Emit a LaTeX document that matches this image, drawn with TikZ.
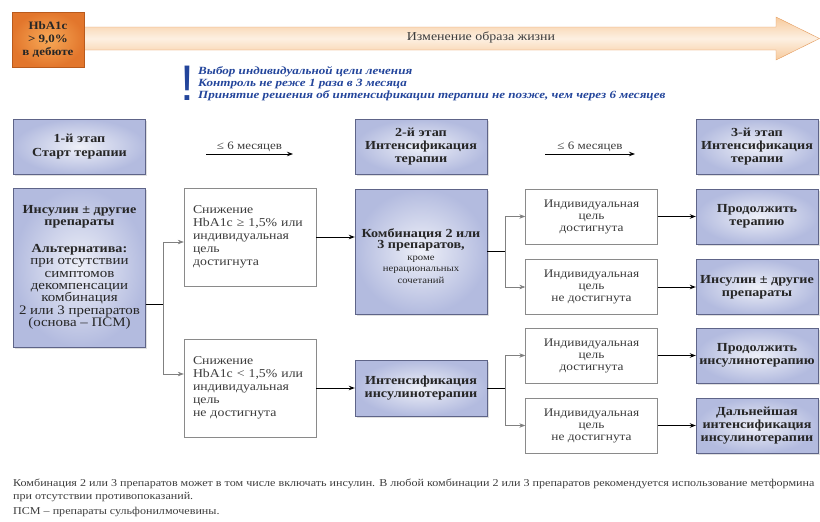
\documentclass[tikz,border=0pt]{standalone}
\usepackage{fontspec}
\setmainfont{Liberation Serif}[FakeStretch=1.15]
\newfontfamily\notefont{Liberation Serif}[FakeStretch=1.19]
\newfontfamily\exclfont{Liberation Sans}
\usetikzlibrary{arrows.meta,shadows}
\definecolor{stagefill}{HTML}{B3BBDF}
\definecolor{stagelight}{HTML}{EEF0F8}
\definecolor{stageline}{HTML}{5E6488}
\definecolor{boxline}{HTML}{8A8A8A}
\definecolor{orangedark}{HTML}{E2762C}
\definecolor{orangelight}{HTML}{F7A957}
\definecolor{orangeline}{HTML}{B95A1C}
\definecolor{arrowlight}{HTML}{FDF0E2}
\definecolor{arrowmid}{HTML}{F7CA9C}
\definecolor{arrowline}{HTML}{E39A5C}
\definecolor{noteblue}{HTML}{23459B}
\definecolor{textgray}{HTML}{3C3C3C}
\newcommand{\regline}{\mdseries\fontsize{13}{12.4}\selectfont}
\newcommand{\smallline}{\mdseries\fontsize{9.3}{10.8}\selectfont}

\begin{document}
\begin{tikzpicture}[x=1pt, y=-1pt,
    stagebox/.style={draw=stageline, inner color=stagelight, outer color=stagefill, minimum width=132pt, minimum height=55pt, align=center, text=black!85, font=\bfseries\fontsize{12.3}{13.2}\selectfont, drop shadow={opacity=0.25, shadow xshift=1.5pt, shadow yshift=-1.5pt}},
    condbox/.style={draw=boxline, fill=white, minimum width=132pt, minimum height=98pt, text width=114pt, align=left, text=textgray, font=\fontsize{12}{13}\selectfont},
    goalbox/.style={draw=boxline, fill=white, minimum width=132pt, minimum height=55pt, align=center, text=textgray, font=\fontsize{11.6}{12}\selectfont},
    arr/.style={-{Stealth[length=6pt,width=4.5pt]}, line width=1pt},
    branch/.style={-{Stealth[length=6pt,width=4.5pt]}, draw=black!50, line width=0.6pt}
  ]
    \useasboundingbox (0,0) rectangle (820,522);

    % lifestyle arrow
    \draw[draw=arrowline, top color=arrowmid, bottom color=arrowmid, middle color=arrowlight]
      (84,27) -- (776,27) -- (776,17) -- (819.5,38.5) -- (776,60) -- (776,50) -- (84,50) -- cycle;
    \node[font=\fontsize{12.1}{13}\selectfont, text=textgray] (life) at (481,37) {Изменение образа жизни};
    \node[draw=orangeline, inner color=orangelight, outer color=orangedark, minimum width=72pt, minimum height=55pt, align=center, font=\bfseries\fontsize{11.3}{13}\selectfont, text=black!85] (hba) at (48,39.5) {HbA1c\\> 9,0\%\\в дебюте};

    % note
    \node[text=noteblue, font=\exclfont\fontsize{50}{50}\selectfont, inner sep=0] (excl) at (187,83) {!};
    \node[anchor=north west, align=left, inner sep=0, text=noteblue, font=\notefont\bfseries\itshape\fontsize{11}{12.4}\selectfont] (note) at (198,66) {Выбор индивидуальной цели лечения\\Контроль не реже 1 раза в 3 месяца\\Принятие решения об интенсификации терапии не позже, чем через 6 месяцев};

    % stages
    \node[stagebox] (stage1) at (79.5,146.5) {1-й этап\\Старт терапии};
    \node[stagebox] (stage2) at (421,146.5) {2-й этап\\Интенсификация\\терапии};
    \node[stagebox, minimum width=122pt] (stage3) at (757,146.5) {3-й этап\\Интенсификация\\терапии};
    \coordinate (m1a) at (206,154);
    \coordinate (m1b) at (293,154);
    \coordinate (m2a) at (545,154);
    \coordinate (m2b) at (635,154);
    \draw[arr] (m1a) -- node[above=0pt, inner sep=2pt, text=textgray, font=\fontsize{11.3}{12}\selectfont] (mon1) {≤ 6 месяцев} (m1b);
    \draw[arr] (m2a) -- node[above=0pt, inner sep=2pt, text=textgray, font=\fontsize{11.3}{12}\selectfont] (mon2) {≤ 6 месяцев} (m2b);

    % stage 1
    \node[stagebox, minimum height=159pt, font=\bfseries\fontsize{12.3}{12.4}\selectfont] (start) at (79.5,267.5) {Инсулин ± другие\\препараты\\[14pt]Альтернатива:\\\regline при отсутствии\\\regline симптомов\\\regline декомпенсации\\\regline комбинация\\\regline 2 или 3 препаратов\\\regline (основа – ПСМ)};
    \node[condbox] (sm1) at (250,237) {Снижение\\HbA1c ≥ 1,5\% или\\индивидуальная\\цель\\достигнута};
    \node[condbox] (sm2) at (250,388) {Снижение\\HbA1c < 1,5\% или\\индивидуальная\\цель\\не достигнута};

    % stage 2
    \node[stagebox, minimum height=125pt, font=\bfseries\fontsize{12.3}{11.5}\selectfont] (comb) at (421,251.5) {\rule{0pt}{18pt}Комбинация 2 или\\3 препаратов,\\\smallline кроме\\\smallline нерациональных\\\smallline сочетаний};
    \node[stagebox, minimum height=56pt] (intens) at (421,388) {Интенсификация\\инсулинотерапии};

    \node[goalbox] (g1) at (591.5,216.5) {Индивидуальная\\цель\\достигнута};
    \node[goalbox] (g2) at (591.5,287) {Индивидуальная\\цель\\не достигнута};
    \node[goalbox] (g3) at (591.5,355.5) {Индивидуальная\\цель\\достигнута};
    \node[goalbox] (g4) at (591.5,425.5) {Индивидуальная\\цель\\не достигнута};

    % stage 3
    \node[stagebox, minimum width=122pt] (r1) at (757,216.5) {Продолжить\\терапию};
    \node[stagebox, minimum width=122pt] (r2) at (757,287) {Инсулин ± другие\\препараты};
    \node[stagebox, minimum width=122pt] (r3) at (757,355.5) {Продолжить\\инсулинотерапию};
    \node[stagebox, minimum width=122pt] (r4) at (757,425.5) {Дальнейшая\\интенсификация\\инсулинотерапии};

    % connectors
    \coordinate (j1) at (163,304);
    \coordinate (j2) at (505,251.5);
    \coordinate (j3) at (505,388);
    \draw[line width=1pt] (j1 -| start.east) -- (j1);
    \draw[branch] (j1) |- ([yshift=-5pt]sm1.west);
    \draw[branch] (j1) |- ([yshift=14pt]sm2.west);
    \draw[arr] (sm1.east) -- (sm1.east -| comb.west);
    \draw[arr] (sm2.east) -- (intens.west);
    \draw[line width=1pt] (comb.east) -- (j2);
    \draw[branch] (j2) |- (g1.west);
    \draw[branch] (j2) |- (g2.west);
    \draw[line width=1pt] (intens.east) -- (j3);
    \draw[branch] (j3) |- (g3.west);
    \draw[branch] (j3) |- (g4.west);
    \draw[arr] (g1) -- (r1);
    \draw[arr] (g2) -- (r2);
    \draw[arr] (g3) -- (r3);
    \draw[arr] (g4) -- (r4);

    % footnote
    \node[anchor=north west, align=left, inner sep=0, text=textgray, font=\fontsize{10.5}{12.5}\selectfont] (foot) at (13,479) {Комбинация 2 или 3 препаратов может в том числе включать инсулин. В любой комбинации 2 или 3 препаратов рекомендуется использование метформина\\при отсутствии противопоказаний.\\[3pt]ПСМ – препараты сульфонилмочевины.};
  \end{tikzpicture}
\end{document}
